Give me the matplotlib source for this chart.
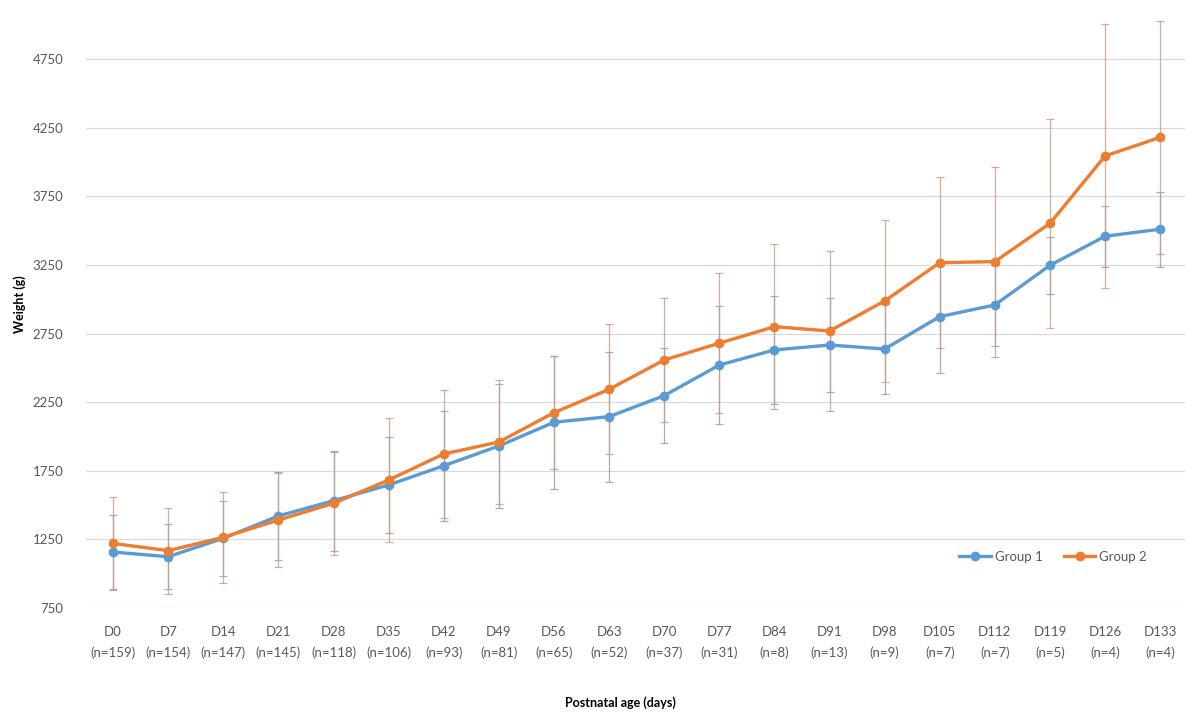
import matplotlib
matplotlib.use("Agg")
import matplotlib.pyplot as plt

# weights by postnatal age
days = ["D0", "D7", "D14", "D21", "D28", "D35", "D42", "D49", "D56", "D63",
        "D70", "D77", "D84", "D91", "D98", "D105", "D112", "D119", "D126", "D133"]
n_counts = [159, 154, 147, 145, 118, 106, 93, 81, 65, 52,
            37, 31, 8, 13, 9, 7, 7, 5, 4, 4]

group1_mean = [1158, 1124, 1258, 1421, 1532, 1647, 1787, 1931, 2104, 2145,
               2298, 2521, 2631, 2667, 2638, 2874, 2959, 3248, 3460, 3511]
group1_sd = [270, 238, 275, 323, 365, 352, 401, 452, 483, 473,
             345, 431, 396, 341, 330, 409, 299, 209, 222, 274]

group2_mean = [1221, 1168, 1265, 1391, 1513, 1683, 1873, 1960, 2174, 2344,
               2558, 2680, 2801, 2769, 2988, 3267, 3275, 3554, 4045, 4181]
group2_sd = [340, 313, 330, 344, 377, 454, 466, 452, 410, 474,
             454, 510, 603, 586, 591, 623, 693, 761, 962, 851]

yticks = [750, 1250, 1750, 2250, 2750, 3250, 3750, 4250, 4750]

BLUE = "#5B9BD5"
ORANGE = "#ED7D31"
GREY = "#595959"

plt.rcParams["font.family"] = ["Lato", "DejaVu Sans"]

fig = plt.figure(figsize=(11.85, 7.15), dpi=100)
ax = fig.add_axes([85.5 / 1185, 107 / 715, 1099.5 / 1185, 608 / 715])

x = list(range(len(days)))
series = [(group1_mean, group1_sd, BLUE, "#8A9BB0", "Group 1"),
          (group2_mean, group2_sd, ORANGE, "#C99A80", "Group 2")]
for mean, sd, color, ecolor, label in series:
    ax.errorbar(x, mean, yerr=sd, fmt="none", ecolor=ecolor, alpha=0.8,
                elinewidth=0.9, capsize=3, capthick=0.9, zorder=2)
    ax.plot(x, mean, "-o", color=color, lw=2.4, ms=6, label=label, zorder=3)

ax.set_xlim(-0.5, 19.45)
ax.set_ylim(750, 5182)
ax.set_yticks(yticks)
ax.set_yticklabels([str(v) for v in yticks])
ax.set_xticks(x)
ax.set_xticklabels([f"{d}\n(n={n})" for d, n in zip(days, n_counts)],
                   linespacing=1.8)

ax.grid(axis="y", color="#D9D9D9", lw=0.9)
ax.set_axisbelow(True)
for s in ax.spines.values():
    s.set_visible(False)
ax.tick_params(axis="both", length=0, labelsize=9.5, colors=GREY)
ax.tick_params(axis="x", pad=13)
ax.tick_params(axis="y", pad=16)

ax.set_ylabel("Weight (g)", fontsize=9, fontweight="bold", labelpad=5)
fig.text(620 / 1185, 1 - 703 / 715, "Postnatal age (days)", fontsize=9,
         fontweight="bold", ha="center", va="center")

leg = ax.legend(loc="center", bbox_to_anchor=(0.88, 0.084), ncol=2,
                frameon=False, fontsize=9.5, handlelength=2.4,
                columnspacing=1.6, handletextpad=0.3)
for t in leg.get_texts():
    t.set_color(GREY)

fig.savefig("out.png", dpi=100)
